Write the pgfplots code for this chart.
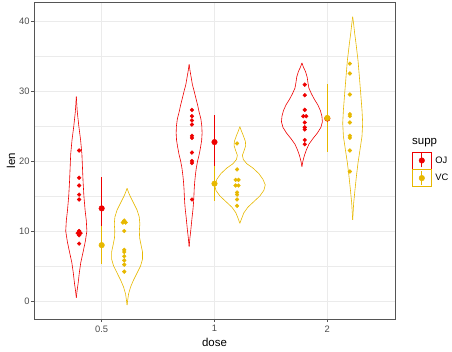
\documentclass[border=0pt]{standalone}
\usepackage{fontspec}
\setmainfont{Liberation Sans}
\usepackage{pgfplots}
\pgfplotsset{compat=1.18}
\usepackage{pgfplotstable}
\definecolor{ojred}{HTML}{EE0000}
\definecolor{vcgold}{HTML}{E7B800}
\definecolor{gridc}{HTML}{EBEBEB}
\definecolor{framec}{HTML}{555555}
\definecolor{tickc}{HTML}{4D4D4D}

% violin outlines: y value, half-width in px (113 px = 1 x unit)
\pgfplotstableread{
y w
29.2 0
28.0 0.5
27.0 1.0
25.0 2.5
23.0 4.3
21.0 5.6
19.0 6.2
17.0 6.8
15.0 7.6
13.0 8.8
11.5 10.0
10.0 10.6
8.5 9.0
7.0 6.8
5.5 4.5
4.0 3.0
2.5 1.8
1.5 0.8
0.47 0
}\vOJa
\pgfplotstableread{
y w
33.8 0
32.8 1
32.0 2
30.9 3.3
30.0 5
29.0 6.7
28.0 8.5
27.0 10
26.0 11.8
25.0 12.7
24.0 13
23.0 12.6
22.0 11.5
21.0 10.2
20.0 8.5
19.0 7.2
18.0 6.3
17.0 5.6
16.0 5.1
15.0 4.8
14.0 4.4
13.0 3.8
12.0 3.0
11.0 2.3
10.0 1.6
9.0 0.8
7.76 0
}\vOJb
\pgfplotstableread{
y w
34.0 0
33.4 1.5
32.8 3.5
32.0 5.2
31.2 6.0
30.4 7.0
29.6 9.5
28.8 12.5
28.0 16
27.2 18.5
26.4 20
25.6 20.5
24.8 19
24.0 15.5
23.2 11
22.4 7
21.6 4.5
20.8 2.5
20.0 1
19.2 0
}\vOJc
\pgfplotstableread{
y w
16.1 0
15.5 1.5
15.0 3.0
14.0 6.5
13.0 10.0
12.0 12.2
11.0 12.8
10.0 12.3
9.0 12.6
8.0 14.0
7.0 15.5
6.0 15.5
5.0 13.5
4.0 10.0
3.0 6.5
2.0 3.5
1.0 1.5
0.0 0.5
-0.57 0
}\vVCa
\pgfplotstableread{
y w
24.9 0
24.3 1.5
23.6 3.5
22.8 5.5
22.2 5.8
21.6 4.5
20.8 2.5
20.2 3.5
19.6 7
19.0 13
18.2 19
17.4 23
16.6 25.4
15.8 24
15.0 20
14.2 14
13.4 8
12.6 4
11.8 1.8
11.1 0
}\vVCb
\pgfplotstableread{
y w
40.6 0
39.5 1
38.2 2
36.8 3.3
34.4 5.3
32.0 6.7
29.7 8
27.3 9.3
25.4 10
23.5 9.3
21.6 7.3
19.7 5.3
17.8 3.7
15.9 2.3
14.0 1
11.6 0
}\vVCc

% individual observations (dotplot)
\pgfplotstableread{
x y
0.8 8.2
0.8 9.4
0.787 9.7
0.813 9.7
0.8 10
0.8 14.5
0.8 15.2
0.8 16.5
0.8 17.6
0.8 21.5
1.8 14.5
1.8 19.7
1.8 20
1.8 21.2
1.8 23.3
1.8 23.6
1.8 25.2
1.8 25.8
1.8 26.4
1.8 27.3
2.8 22.4
2.8 23
2.8 24.5
2.8 24.8
2.8 25.5
2.787 26.4
2.813 26.4
2.8 27.3
2.8 29.4
2.8 30.9
}\dOJ
\pgfplotstableread{
x y
1.2 4.2
1.2 5.2
1.2 5.8
1.2 6.4
1.2 7
1.2 7.3
1.2 10
1.187 11.2
1.213 11.2
1.2 11.5
2.2 13.6
2.2 14.5
2.2 15.2
2.2 15.5
2.187 16.5
2.213 16.5
2.187 17.3
2.213 17.3
2.2 18.8
2.2 22.5
3.2 18.5
3.2 21.5
3.2 23.3
3.2 23.6
3.2 25.5
3.2 26.4
3.2 26.7
3.2 29.5
3.2 32.5
3.2 33.9
}\dVC

% mean and sd
\pgfplotstableread{
x y e
1 13.23 4.46
2 22.70 3.91
3 26.06 2.66
}\mOJ
\pgfplotstableread{
x y e
1 7.98 2.75
2 16.77 2.52
3 26.14 4.80
}\mVC

\begin{document}
\begin{tikzpicture}
\useasboundingbox (0,0) rectangle (452bp,352bp);
\begin{axis}[
  at={(34bp,33bp)}, anchor=south west,
  scale only axis, width=361bp, height=317bp,
  xmin=0.4, xmax=3.6, ymin=-2.57, ymax=42.71,
  xtick={1,2,3}, xticklabels={0.5,1,2},
  ytick={0,10,20,30,40}, minor ytick={5,15,25,35},
  grid=both,
  major grid style={gridc, line width=0.6bp},
  minor grid style={gridc, line width=0.35bp},
  axis line style={framec, line width=0.7bp},
  tick style={framec, line width=0.6bp},
  tick align=outside, major tick length=3bp, minor tick length=0bp,
  xtick pos=bottom, ytick pos=left,
  /pgf/number format/assume math mode=true,
  ticklabel style={font=\fontsize{9.4}{10}\selectfont, text=tickc},
  yticklabel style={xshift=2bp},
  xlabel={dose}, ylabel={len},
  label style={font=\fontsize{11.5}{12}\selectfont, text=black},
  xlabel style={at={(axis description cs:0.5,0)}, anchor=base, yshift=-27.5bp},
  ylabel style={at={(axis description cs:-0.0526,0.5)}, anchor=base},
  legend style={at={(axis description cs:1,0.5278)}, xshift=17.3bp, anchor=north west,
    draw=none, fill=none, inner sep=0pt, outer sep=0pt, row sep=0pt, column sep=4bp,
    font=\fontsize{9.4}{10}\selectfont, nodes={inner sep=0pt, outer sep=0pt}},
  legend cell align=left,
  clip=false,
]
\addlegendimage{legend image code/.code={
  \draw[ojred, line width=0.6bp, fill=white] (0bp,-8.5bp) rectangle (18.4bp,8.5bp);
  \draw[ojred, line width=1.1bp] (9.2bp,-7bp) -- (9.2bp,7bp);
  \fill[ojred] (9.2bp,0bp) circle (2.8bp);
}}
\addlegendentry{OJ}
\addlegendimage{legend image code/.code={
  \draw[vcgold, line width=0.6bp, fill=white] (0bp,-8.5bp) rectangle (18.4bp,8.5bp);
  \draw[vcgold, line width=1.1bp] (9.2bp,-7bp) -- (9.2bp,7bp);
  \fill[vcgold] (9.2bp,0bp) circle (2.8bp);
}}
\addlegendentry{VC}

% violins
\addplot[ojred, line width=0.6bp, forget plot] table[x expr={0.775-\thisrow{w}/113}, y=y]{\vOJa};
\addplot[ojred, line width=0.6bp, forget plot] table[x expr={0.775+\thisrow{w}/113}, y=y]{\vOJa};
\addplot[ojred, line width=0.6bp, forget plot] table[x expr={1.775-\thisrow{w}/113}, y=y]{\vOJb};
\addplot[ojred, line width=0.6bp, forget plot] table[x expr={1.775+\thisrow{w}/113}, y=y]{\vOJb};
\addplot[ojred, line width=0.6bp, forget plot] table[x expr={2.775-\thisrow{w}/113}, y=y]{\vOJc};
\addplot[ojred, line width=0.6bp, forget plot] table[x expr={2.775+\thisrow{w}/113}, y=y]{\vOJc};
\addplot[vcgold, line width=0.6bp, forget plot] table[x expr={1.225-\thisrow{w}/113}, y=y]{\vVCa};
\addplot[vcgold, line width=0.6bp, forget plot] table[x expr={1.225+\thisrow{w}/113}, y=y]{\vVCa};
\addplot[vcgold, line width=0.6bp, forget plot] table[x expr={2.225-\thisrow{w}/113}, y=y]{\vVCb};
\addplot[vcgold, line width=0.6bp, forget plot] table[x expr={2.225+\thisrow{w}/113}, y=y]{\vVCb};
\addplot[vcgold, line width=0.6bp, forget plot] table[x expr={3.225-\thisrow{w}/113}, y=y]{\vVCc};
\addplot[vcgold, line width=0.6bp, forget plot] table[x expr={3.225+\thisrow{w}/113}, y=y]{\vVCc};

% dots
\addplot[only marks, mark=*, mark size=1.9bp, ojred, mark options={draw=ojred, fill=ojred}, forget plot] table[x=x, y=y]{\dOJ};
\addplot[only marks, mark=*, mark size=1.9bp, vcgold, mark options={draw=vcgold, fill=vcgold}, forget plot] table[x=x, y=y]{\dVC};

% mean +- sd
\addplot[only marks, mark=*, mark size=2.8bp, ojred, mark options={draw=ojred, fill=ojred}, forget plot,
  error bars/.cd, y dir=both, y explicit, error mark=none,
  error bar style={ojred, line width=1.1bp}]
  table[x=x, y=y, y error=e]{\mOJ};
\addplot[only marks, mark=*, mark size=2.8bp, vcgold, mark options={draw=vcgold, fill=vcgold}, forget plot,
  error bars/.cd, y dir=both, y explicit, error mark=none,
  error bar style={vcgold, line width=1.1bp}]
  table[x=x, y=y, y error=e]{\mVC};

\node[anchor=base west, font=\fontsize{11.5}{12}\selectfont, inner sep=0pt] at (axis description cs:1,0.551) [xshift=17bp] {supp};
\end{axis}
\end{tikzpicture}
\end{document}
